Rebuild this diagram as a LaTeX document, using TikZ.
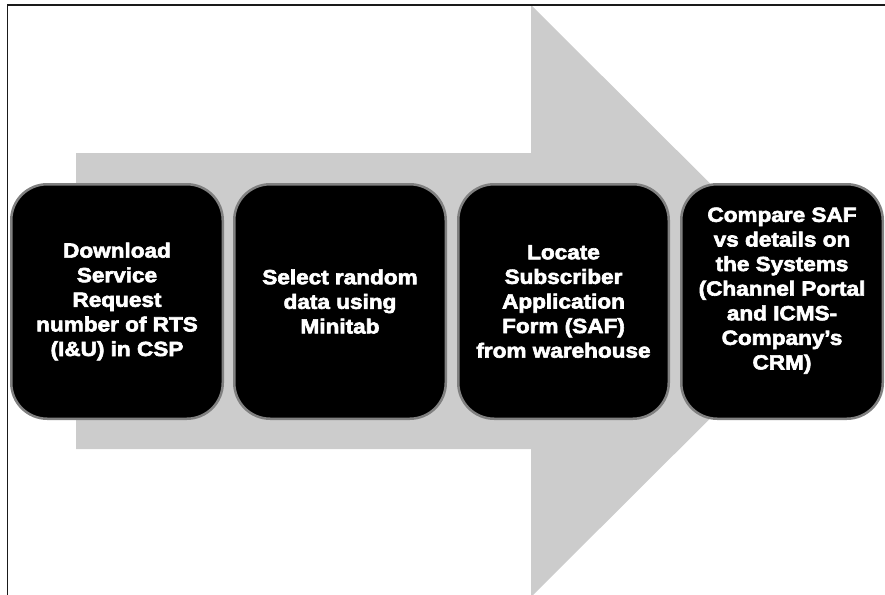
\documentclass[tikz,border=0pt]{standalone}
\usepackage{fontspec}
\newfontfamily\boxfont[FakeStretch=1.1,FakeBold=3]{Liberation Sans Bold}
\definecolor{arrowgray}{HTML}{CCCCCC}
\definecolor{rimgray}{HTML}{808080}
\definecolor{framecol}{HTML}{1A1A1A}
\begin{document}
\begin{tikzpicture}[x=1pt,y=-1pt,
  stepbox/.style={draw=rimgray, line width=2.5pt, fill=black, rounded corners=36pt,
    text=white, font=\boxfont\fontsize{20.5}{24.6}\selectfont, align=center,
    minimum height=234.5pt, inner sep=0pt},
  arrowshape/.style={fill=arrowgray},
  framestyle/.style={draw=framecol, line width=1.8pt}]
\useasboundingbox (0,0) rectangle (885,594);
\clip (0,0) rectangle (885,594);
\fill[arrowshape] (76,153) -- (531,153) -- (531,5) -- (828,301) -- (531,597) -- (531,449) -- (76,449) -- cycle;
\node[stepbox, minimum width=211.5pt] (s1) at (117,301.5) {Download\\Service\\Request\\number of RTS\\(I\&U) in CSP};
\node[stepbox, minimum width=211.5pt] (s2) at (340,301.5) {Select random\\data using\\Minitab};
\node[stepbox, minimum width=210.5pt] (s3) at (563.5,301.5) {Locate\\Subscriber\\Application\\Form (SAF)\\from warehouse};
\node[stepbox, minimum width=201.5pt, text depth=26pt] (s4) at (782,301.5) {Compare SAF\\vs details on\\the Systems\\(Channel Portal\\and ICMS-\\Company’s\\CRM)};
\coordinate (fbl) at (7.5,610);
\coordinate (ftl) at (7.5,5);
\coordinate (ftr) at (900,5);
\draw[framestyle] (fbl) -- (ftl) -- (ftr);
\end{tikzpicture}
\end{document}
